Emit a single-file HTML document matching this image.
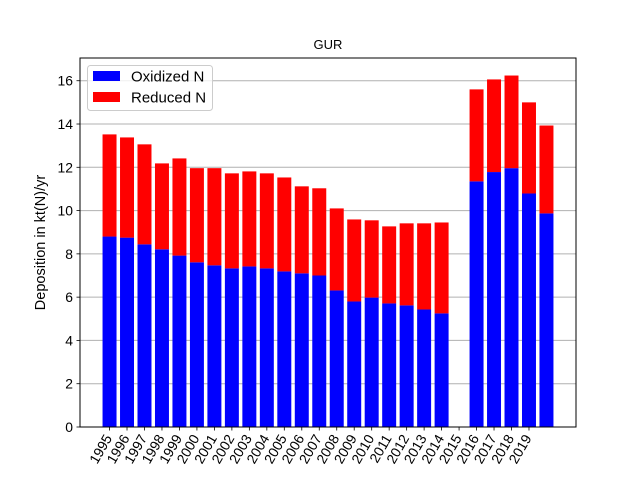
<!DOCTYPE html>
<html><head><meta charset="utf-8"><style>
body{margin:0;background:#fff}
svg{display:block;font-family:"Liberation Sans","DejaVu Sans",sans-serif}
</style></head><body>
<svg id="chart" width="640" height="480" viewBox="0 0 640 480">
<rect width="640" height="480" fill="#fff"/>
<text x="328" y="49" text-anchor="middle" font-size="13">GUR</text>
<g id="grid"></g><g id="bars"></g><g id="axes"></g>
</svg>
<script>
const years=[1995,1996,1997,1998,1999,2000,2001,2002,2003,2004,2005,2006,2007,2008,2009,2010,2011,2012,2013,2014,2015,2016,2017,2018,2019,2020];
const tickLabels=["1995","1996","1997","1998","1999","2000","2001","2002","2003","2004","2005","2006","2007","2008","2009","2010","2011","2012","2013","2014","2015","2016","2017","2018","2019"];
const oxidized=[8.80,8.75,8.44,8.21,7.92,7.61,7.47,7.33,7.42,7.33,7.19,7.10,7.00,6.31,5.80,5.98,5.71,5.62,5.43,5.25,0,11.35,11.78,11.96,10.79,9.87];
const totals=[13.52,13.38,13.06,12.18,12.41,11.96,11.96,11.72,11.81,11.72,11.53,11.12,11.03,10.10,9.59,9.55,9.27,9.41,9.41,9.45,0,15.6,16.06,16.24,15.0,13.93];
const yTicks=[0,2,4,6,8,10,12,14,16];

const NS="http://www.w3.org/2000/svg";
const L=80,R=576,T=58,B=427;
const xmin=-1.69,xmax=26.69,ymax=17.05;
const xs=i=>L+(i-xmin)/(xmax-xmin)*(R-L);
const ys=v=>B-v/ymax*(B-T);
function mk(tag,attrs,parent){const e=document.createElementNS(NS,tag);for(const k in attrs)e.setAttribute(k,attrs[k]);parent.appendChild(e);return e;}
const grid=document.getElementById('grid'),bars=document.getElementById('bars'),axes=document.getElementById('axes');
const bw=0.8*(R-L)/(xmax-xmin);
yTicks.forEach(v=>{
  const g=mk('line',{x1:L,x2:R,y1:ys(v),y2:ys(v),stroke:'#b0b0b0','stroke-width':1},grid);
  
  
  const t=mk('line',{x1:L-3.5,x2:L,y1:ys(v),y2:ys(v),stroke:'#000','stroke-width':0.8},axes);
  
  
  const tx=mk('text',{x:L-7,y:ys(v)+5,'text-anchor':'end','font-size':13.9},axes);
  tx.textContent=v;
  
  
});
years.forEach((y,i)=>{
  const cx=xs(i);
  const o=mk('rect',{x:cx-bw/2,width:bw,y:ys(oxidized[i]),height:ys(0)-ys(oxidized[i]),fill:'#0000ff'},bars);
  
  
  const r=mk('rect',{x:cx-bw/2,width:bw,y:ys(totals[i]),height:Math.max(0,ys(oxidized[i])-ys(totals[i])),fill:'#ff0000'},bars);
  
  
});
tickLabels.forEach((lab,i)=>{
  const cx=xs(i);
  const t=mk('line',{x1:cx,x2:cx,y1:B,y2:B+3.5,stroke:'#000','stroke-width':0.8},axes);
  
  
  const ax=cx+3, ay=B+11;
  const tx=mk('text',{x:ax,y:ay,'text-anchor':'end','font-size':13.9,transform:`rotate(-60 ${ax} ${ay})`},axes);
  tx.textContent=lab;
  
  
});
const fr=mk('rect',{x:L,y:T,width:R-L,height:B-T,fill:'none',stroke:'#000','stroke-width':1},axes);


const yl=mk('text',{x:45,y:(T+B)/2,'text-anchor':'middle','font-size':14.5,transform:`rotate(-90 45 ${(T+B)/2})`},axes);
yl.textContent='Deposition in kt(N)/yr';


const lg=mk('g',{},axes);


mk('rect',{x:87.5,y:65.5,width:125,height:45,rx:3,fill:'#fff','fill-opacity':0.8,stroke:'#ccc'},lg);
const items=[['Oxidized N','#0000ff'],['Reduced N','#ff0000']];
items.forEach((it,k)=>{
  const y0=71+k*21;
  const sw=mk('rect',{x:93,y:y0,width:27,height:10,fill:it[1]},lg);
  
  
  const t=mk('text',{x:131,y:y0+10.5,'font-size':15},lg);
  t.textContent=it[0];
  
  
});
</script>
</body></html>
